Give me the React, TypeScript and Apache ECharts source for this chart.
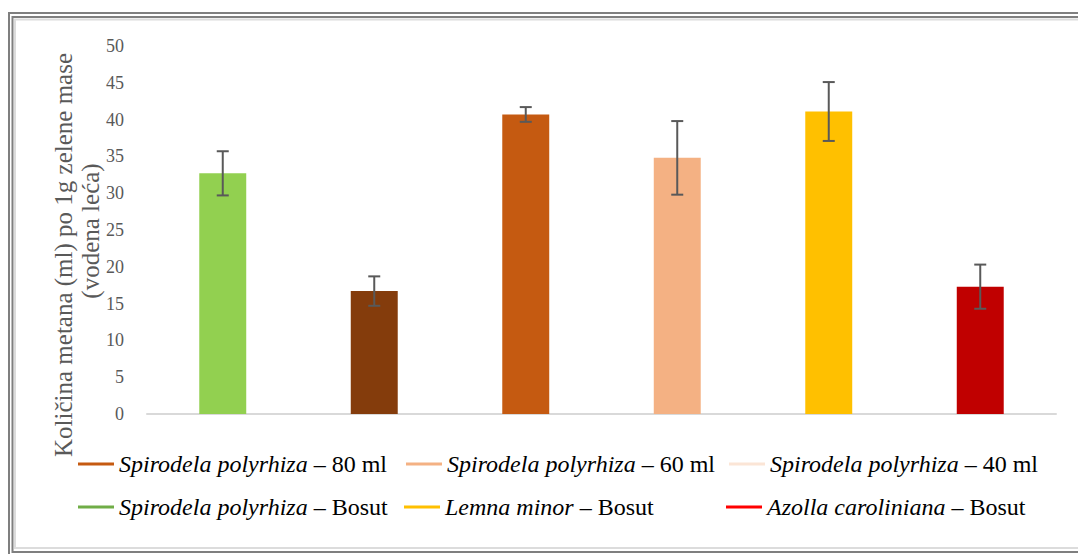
import React, { useEffect, useRef } from "react";
import * as echarts from "echarts";

const categories = [
  "Spirodela polyrhiza – Bosut",
  "Spirodela polyrhiza – 40 ml",
  "Spirodela polyrhiza – 80 ml",
  "Spirodela polyrhiza – 60 ml",
  "Lemna minor – Bosut",
  "Azolla caroliniana – Bosut",
];
const values = [32.7, 16.7, 40.7, 34.8, 41.1, 17.3];
const errors = [3, 2, 1, 5, 4, 3];
const barColors = ["#92d050", "#843c0c", "#c55a11", "#f4b183", "#ffc000", "#c00000"];

const legendNames = [
  "Spirodela polyrhiza – 80 ml",
  "Spirodela polyrhiza – 60 ml",
  "Spirodela polyrhiza – 40 ml",
  "Spirodela polyrhiza – Bosut",
  "Lemna minor – Bosut",
  "Azolla caroliniana – Bosut",
];
const legendColors = ["#c55a11", "#f4b183", "#fbe5d6", "#70ad47", "#ffc000", "#ff0000"];
const legendPos = [
  [78, 465], [406, 465], [729, 465],
  [78, 508], [404, 508], [726, 508],
];

const yTicks = { min: 0, max: 50, interval: 5 };
const titleLine1 = "Količina metana (ml) po 1g zelene mase";
const titleLine2 = "(vodena leća)";

const FONT = "Liberation Serif, Times New Roman, serif";

export default function App() {
  const ref = useRef<HTMLDivElement>(null);
  useEffect(() => {
    if (!ref.current) return;
    const chart = echarts.init(ref.current, undefined, { renderer: "svg" });
    const errData = values.map((v, i) => [i, v - errors[i], v + errors[i]]);
    const option: any = {
      animation: false,
      backgroundColor: "#ffffff",
      textStyle: { fontFamily: FONT },
      grid: { left: 147, right: 22, top: 46, bottom: 140, containLabel: false },
      xAxis: {
        type: "category",
        data: categories,
        axisLine: { lineStyle: { color: "#d9d9d9", width: 2 } },
        axisTick: { show: false },
        axisLabel: { show: false },
      },
      yAxis: {
        type: "value",
        min: yTicks.min,
        max: yTicks.max,
        interval: yTicks.interval,
        axisLine: { show: false },
        axisTick: { show: false },
        splitLine: { show: false },
        axisLabel: { color: "#595959", fontFamily: FONT, fontSize: 18, margin: 23 },
      },
      legend: legendNames.map((n, i) => ({
        data: [n],
        left: legendPos[i][0],
        top: legendPos[i][1] - 13,
        icon: "rect",
        itemWidth: 36,
        itemHeight: 3,
        padding: 0,
        textStyle: {
          color: "#000",
          fontFamily: FONT,
          fontSize: 24,
          rich: {
            i: { fontStyle: "italic", fontFamily: FONT, fontSize: 24, color: "#000" },
            n: { fontFamily: FONT, fontSize: 24, color: "#000" },
          },
        },
        formatter: (name: string) => {
          const parts = name.split(" – ");
          return "{i|" + parts[0] + "}{n| – " + parts[1] + "}";
        },
      })),
      series: [
        {
          type: "bar",
          name: "Metan",
          data: values.map((v, i) => ({ value: v, itemStyle: { color: barColors[i] } })),
          barWidth: "31%",
        },
        {
          type: "custom",
          name: "err",
          data: errData,
          z: 5,
          renderItem: (params: any, api: any) => {
            const x = api.value(0);
            const lo = api.coord([x, api.value(1)]);
            const hi = api.coord([x, api.value(2)]);
            const hw = 6;
            const style = { stroke: "#595959", lineWidth: 2 };
            return {
              type: "group",
              children: [
                { type: "line", shape: { x1: lo[0], y1: lo[1], x2: hi[0], y2: hi[1] }, style },
                { type: "line", shape: { x1: hi[0] - hw, y1: hi[1], x2: hi[0] + hw, y2: hi[1] }, style },
                { type: "line", shape: { x1: lo[0] - hw, y1: lo[1], x2: lo[0] + hw, y2: lo[1] }, style },
              ],
            };
          },
        },
        ...legendNames.map((n, i) => ({
          type: "line",
          name: n,
          data: [],
          symbol: "none",
          itemStyle: { color: legendColors[i] },
          lineStyle: { color: legendColors[i], width: 3 },
        })),
      ],
      graphic: [
        { type: "rect", silent: true, shape: { x: 9, y: 13, width: 1200, height: 700 }, style: { fill: "none", stroke: "#7f7f7f", lineWidth: 2 } },
        { type: "rect", silent: true, shape: { x: 12.5, y: 17, width: 1200, height: 535 }, style: { fill: "none", stroke: "#7f7f7f", lineWidth: 2 } },
        { type: "rect", silent: true, shape: { x: 15, y: 19.5, width: 1200, height: 528.5 }, style: { fill: "none", stroke: "#dcdcdc", lineWidth: 2 } },
        {
          type: "text", x: 63, y: 255, rotation: Math.PI / 2,
          style: { text: titleLine1, fill: "#595959", font: "25px " + FONT, align: "center", verticalAlign: "middle" },
        },
        {
          type: "text", x: 90, y: 231, rotation: Math.PI / 2,
          style: { text: titleLine2, fill: "#595959", font: "25px " + FONT, align: "center", verticalAlign: "middle" },
        },
      ],
    };
    chart.setOption(option);
    return () => chart.dispose();
  }, []);
  return (
    <div
      ref={ref}
      style={{ position: "fixed", left: 0, top: 0, width: 1078, height: 554 }}
    />
  );
}
